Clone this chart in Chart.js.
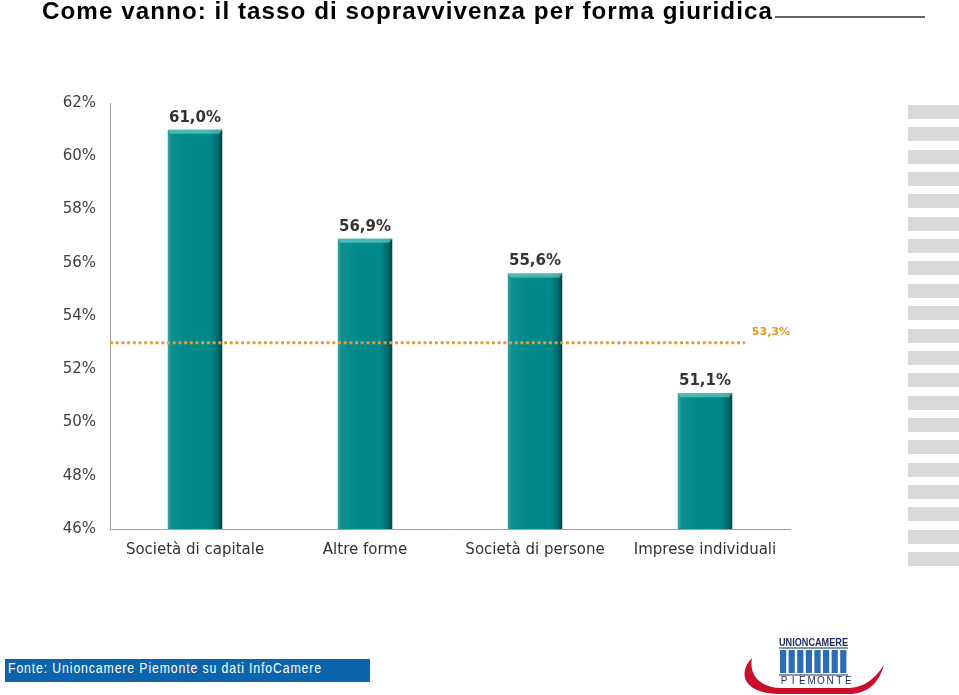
<!DOCTYPE html>
<html lang="it">
<head>
<meta charset="utf-8">
<title>Tasso di sopravvivenza per forma giuridica</title>
<script src="https://cdn.jsdelivr.net/npm/chart.js@4"></script>
<style>
    html, body { margin: 0; padding: 0; background: #fff; }
    #pagina { position: relative; width: 959px; height: 695px; overflow: hidden; }
    #grafico { position: absolute; left: 0; top: 0; }
    #titolo {
        position: absolute; left: 42px; top: 0px;
        font: bold 23px 'Liberation Sans', Arial, sans-serif; line-height: 23px;
        color: #000; white-space: nowrap; letter-spacing: 1px; transform-origin: 0 0;
    }
    #titolo-riga { position: absolute; left: 775px; top: 16px; width: 150px; height: 2px; background: #666; }
    .fascia { position: absolute; left: 908px; width: 51px; height: 14px; background: #d9d9d9; }
    #fonte { position: absolute; left: 5px; top: 659px; width: 365px; height: 23px; background: #0b64ac; }
    #fonte span {
        position: absolute; left: 3px; top: 1px;
        font: 14px 'Liberation Sans', Arial, sans-serif; line-height: 16px;
        color: #fff; white-space: nowrap; letter-spacing: 1px; transform-origin: 0 0;
    }
    #logo { position: absolute; left: 730px; top: 628px; }
</style>
</head>
<body>
<div id="pagina">
    <canvas id="grafico" width="959" height="695"></canvas>
    <div id="titolo">Come vanno: il tasso di sopravvivenza per forma giuridica</div>
    <div id="titolo-riga"></div>
    <div id="fonte"><span>Fonte: Unioncamere Piemonte su dati InfoCamere</span></div>
    <canvas id="logo" width="229" height="67"></canvas>
</div>
<script>
// dati del grafico
const categorie = ['Società di capitale', 'Altre forme', 'Società di persone', 'Imprese individuali'];
const tassi = [61.0, 56.9, 55.6, 51.1];
const yMin = 46;
const yMax = 62;
const yPasso = 2;
const media = 53.3;        // valore indicato in etichetta
const mediaLinea = 53.0;   // posizione della linea tratteggiata

const formatta = v => v.toFixed(1).replace('.', ',') + '%';

// adatta la larghezza di un testo
function adatta(el, larghezza) {
    const w = el.getBoundingClientRect().width;
    el.style.transform = 'scaleX(' + (larghezza / w) + ')';
}
adatta(document.getElementById('titolo'), 731);
adatta(document.querySelector('#fonte span'), 314);

// fasce grigie a destra
const pagina = document.getElementById('pagina');
for (let i = 0; i < 21; i++) {
    const d = document.createElement('div');
    d.className = 'fascia';
    d.style.top = (105 + i * 22.35) + 'px';
    pagina.appendChild(d);
}

// logo Unioncamere
function disegnaLogo() {
    const ctx = document.getElementById('logo').getContext('2d');
    ctx.translate(-730, -628);
    // arco rosso
    ctx.fillStyle = '#c8102e';
    ctx.beginPath();
    ctx.moveTo(752, 658);
    ctx.bezierCurveTo(738, 672, 742, 693, 778, 694);
    ctx.lineTo(852, 694);
    ctx.bezierCurveTo(870, 692, 879, 682, 884, 665);
    ctx.bezierCurveTo(874, 680, 864, 687, 850, 688);
    ctx.lineTo(780, 688);
    ctx.bezierCurveTo(757, 687, 749, 672, 752, 658);
    ctx.closePath();
    ctx.fill();
    // scritta
    ctx.fillStyle = '#1c2b5c';
    ctx.font = 'bold 11px "Liberation Sans Narrow", "Liberation Sans", Arial, sans-serif';
    ctx.textBaseline = 'alphabetic';
    ctx.fillText('UNIONCAMERE', 779, 646, 69);
    ctx.fillRect(779, 647.5, 69, 1);
    // colonne
    ctx.fillStyle = '#2b6cb5';
    for (let i = 0; i < 8; i++) {
        ctx.fillRect(780 + i * 8.6, 650, 6.2, 23);
    }
    ctx.fillStyle = '#1c2b5c';
    ctx.fillRect(779, 674.5, 69, 1);
    ctx.font = '10px "Liberation Sans", Arial, sans-serif';
    ctx.textAlign = 'center';
    const lettere = 'PIEMONTE'.split('');
    lettere.forEach((c, i) => ctx.fillText(c, 784 + i * 9.2, 684));
}
disegnaLogo();

// ombreggiatura barre, etichette e linea della media
const decorazioni = {
    id: 'decorazioni',
    afterDatasetsDraw(chart) {
        const ctx = chart.ctx;
        const meta = chart.getDatasetMeta(0);
        const area = chart.chartArea;
        const y = chart.scales.y;
        ctx.save();
        let ultimoBordo = area.right;
        meta.data.forEach((bar, i) => {
            const p = bar.getProps(['x', 'y', 'width'], true);
            const base = area.bottom;
            const l = p.x - p.width / 2;
            const r = p.x + p.width / 2;
            const h = base - p.y;
            ultimoBordo = r;
            const g = ctx.createLinearGradient(l, 0, r, 0);
            g.addColorStop(0, 'rgba(255,255,255,0.22)');
            g.addColorStop(0.07, 'rgba(255,255,255,0.05)');
            g.addColorStop(0.78, 'rgba(0,0,0,0)');
            g.addColorStop(0.92, 'rgba(0,0,0,0.22)');
            g.addColorStop(1, 'rgba(0,0,0,0.5)');
            ctx.fillStyle = g;
            ctx.fillRect(l, p.y, p.width, h);
            // bordo superiore chiaro
            ctx.fillStyle = 'rgba(120,215,210,0.6)';
            ctx.beginPath();
            ctx.moveTo(l, p.y);
            ctx.lineTo(r, p.y);
            ctx.lineTo(r - 3, p.y + 4);
            ctx.lineTo(l + 3, p.y + 4);
            ctx.closePath();
            ctx.fill();
            // valore
            ctx.fillStyle = '#333';
            ctx.font = 'bold 15px "DejaVu Sans", Verdana, sans-serif';
            ctx.textAlign = 'center';
            ctx.textBaseline = 'alphabetic';
            ctx.fillText(formatta(tassi[i]), p.x, p.y - 8);
        });
        // linea tratteggiata della media
        const ym = y.getPixelForValue(mediaLinea);
        ctx.strokeStyle = '#e89b2e';
        ctx.lineWidth = 3;
        ctx.setLineDash([3, 2.7]);
        ctx.beginPath();
        ctx.moveTo(area.left, ym);
        ctx.lineTo(ultimoBordo + 13, ym);
        ctx.stroke();
        ctx.setLineDash([]);
        ctx.fillStyle = '#e0982a';
        ctx.font = 'bold 11px "DejaVu Sans", Verdana, sans-serif';
        ctx.textAlign = 'right';
        ctx.textBaseline = 'middle';
        ctx.fillText(formatta(media), area.right, y.getPixelForValue(media) - 2);
        ctx.restore();
    }
};

new Chart(document.getElementById('grafico'), {
    type: 'bar',
    data: {
        labels: categorie,
        datasets: [{
            data: tassi,
            backgroundColor: '#00898a',
            borderWidth: 0,
            barPercentage: 0.32,
            categoryPercentage: 1.0
        }]
    },
    options: {
        responsive: false,
        animation: false,
        layout: { padding: { left: 0, top: 103, right: 169, bottom: 126 } },
        plugins: {
            legend: { display: false },
            tooltip: { enabled: false }
        },
        scales: {
            x: {
                grid: { display: false, drawTicks: false },
                border: { display: true, color: '#a0a0a0', width: 1 },
                ticks: {
                    color: '#333',
                    padding: 12,
                    maxRotation: 0,
                    font: { family: '"DejaVu Sans", Verdana, sans-serif', size: 15 }
                },
                afterFit: s => { s.height = 40; }
            },
            y: {
                min: yMin,
                max: yMax,
                grid: { display: false, drawTicks: false },
                border: { display: true, color: '#999', width: 1 },
                ticks: {
                    stepSize: yPasso,
                    color: '#404040',
                    padding: 14,
                    font: { family: '"DejaVu Sans", Verdana, sans-serif', size: 15 },
                    callback: v => v + '%'
                },
                afterFit: s => { s.width = 110; }
            }
        }
    },
    plugins: [decorazioni]
});
</script>
</body>
</html>
